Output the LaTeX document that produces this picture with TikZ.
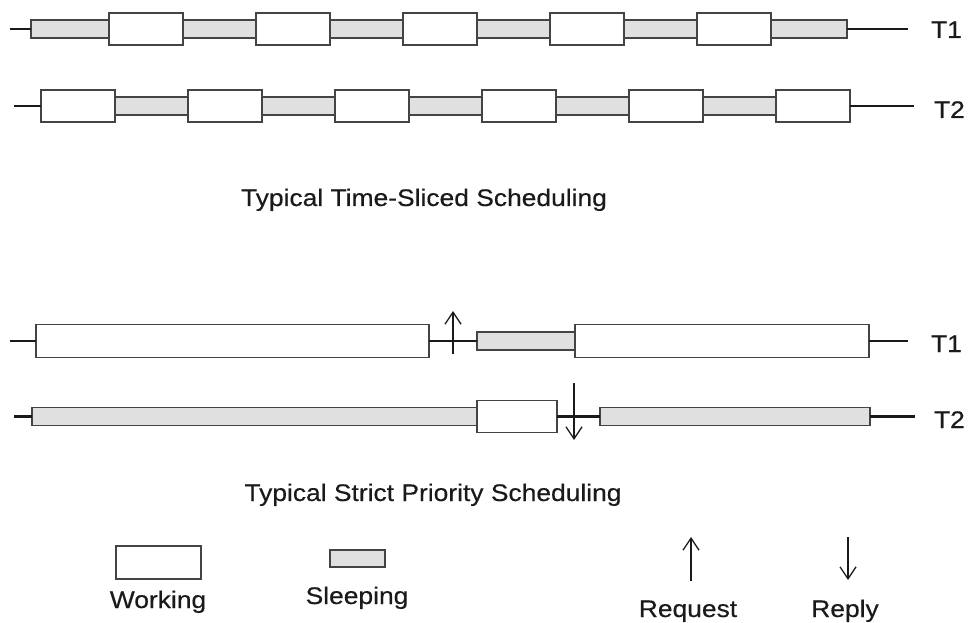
\documentclass[tikz,border=0pt]{standalone}
\usepackage{fontspec}
\setmainfont{Liberation Sans}[FakeStretch=1.1, FakeBold=0.4]
\usetikzlibrary{arrows.meta}
\definecolor{edge}{HTML}{444444}
\definecolor{sleepfill}{HTML}{E0E0E0}
\definecolor{ink}{HTML}{1A1A1A}
\tikzset{
  workbox/.style={draw=edge, line width=1.8pt, fill=white, inner sep=0pt, outer sep=0pt, minimum height=32pt, anchor=west},
  sleepbox/.style={draw=edge, line width=1.8pt, fill=sleepfill, inner sep=0pt, outer sep=0pt, minimum height=18pt, anchor=west},
  tl/.style={draw=ink, line width=2.2pt},
  sig/.style={draw=ink, line width=1.3pt, -{Straight Barb[length=12pt,width=16pt,line width=1.3pt]}},
  txt/.style={inner sep=0pt, outer sep=0pt, text=ink, font=\fontsize{24}{28}\selectfont},
}
\begin{document}
\begin{tikzpicture}[x=1pt, y=-1pt]
\useasboundingbox (0,0) rectangle (970,623);
% ---------- Time-sliced, T1 ----------
\coordinate (a0) at (10,29);
\coordinate (a1) at (908,29);
\node[sleepbox, minimum width=78pt] (as0) at (31,29) {};
\foreach \k in {1,...,4} {
  \node[sleepbox, minimum width=73pt] (as\k) at ({183+147*(\k-1)},29) {};
}
\node[sleepbox, minimum width=76pt] (as5) at (771,29) {};
\foreach \k in {0,...,4} {
  \node[workbox, minimum width=74pt] (aw\k) at ({109+147*\k},29) {};
}
\draw[tl] (a0) -- (as0.west);
\draw[tl] (as5.east) -- (a1);
\node[txt, anchor=base west] (la) at (931,38) {T1};
% ---------- Time-sliced, T2 ----------
\coordinate (b0) at (14,106);
\coordinate (b1) at (914,106);
\foreach \k in {0,...,4} {
  \node[sleepbox, minimum width=73pt] (bs\k) at ({115+147*\k},106) {};
}
\foreach \k in {0,...,5} {
  \node[workbox, minimum width=74pt] (bw\k) at ({41+147*\k},106) {};
}
\draw[tl] (b0) -- (bw0.west);
\draw[tl] (bw5.east) -- (b1);
\node[txt, anchor=base west] (lb) at (934,118) {T2};
\node[txt, anchor=base] (title1) at (424,206) {Typical Time-Sliced Scheduling};
% ---------- Strict priority, T1 ----------
\coordinate (c0) at (10,341);
\coordinate (c1) at (908,341);
\node[workbox, minimum width=393pt, minimum height=33pt] (cw0) at (36,341) {};
\node[sleepbox, minimum width=98pt] (cs0) at (477,341) {};
\node[workbox, minimum width=294pt, minimum height=33pt] (cw1) at (575,341) {};
\draw[tl] (c0) -- (cw0.west);
\draw[tl] (cw0.east) -- (cs0.west);
\draw[tl] (cw1.east) -- (c1);
\coordinate (up0) at (453,354);
\coordinate (up1) at (453,311);
\draw[sig] (up0) -- (up1);
\node[txt, anchor=base west] (lc) at (931,352) {T1};
% ---------- Strict priority, T2 ----------
\coordinate (d0) at (14,416.5);
\coordinate (d1) at (915,416.5);
\node[sleepbox, minimum width=445pt] (ds0) at (32,416.5) {};
\node[workbox, minimum width=80pt, minimum height=32pt] (dw0) at (477,416.5) {};
\node[sleepbox, minimum width=270pt] (ds1) at (600,416.5) {};
\draw[tl] (d0) -- (ds0.west);
\draw[tl] (dw0.east) -- (ds1.west);
\draw[tl] (ds1.east) -- (d1);
\coordinate (dn0) at (574,383);
\coordinate (dn1) at (574,440);
\draw[sig] (dn0) -- (dn1);
\node[txt, anchor=base west] (ld) at (934,428) {T2};
\node[txt, anchor=base] (title2) at (433,501) {Typical Strict Priority Scheduling};
% ---------- Legend ----------
\node[workbox, minimum width=85pt, minimum height=33pt] (kw) at (116,562.5) {};
\node[txt, anchor=base] (kwl) at (158,608) {Working};
\node[sleepbox, minimum width=55pt, minimum height=17pt] (ks) at (330,558.5) {};
\node[txt, anchor=base] (ksl) at (357,604) {Sleeping};
\coordinate (kr0) at (691,581);
\coordinate (kr1) at (691,537);
\draw[sig] (kr0) -- (kr1);
\node[txt, anchor=base] (krl) at (688,617) {Request};
\coordinate (kp0) at (848,537);
\coordinate (kp1) at (848,580);
\draw[sig] (kp0) -- (kp1);
\node[txt, anchor=base] (kpl) at (845,617) {Reply};
\end{tikzpicture}
\end{document}
